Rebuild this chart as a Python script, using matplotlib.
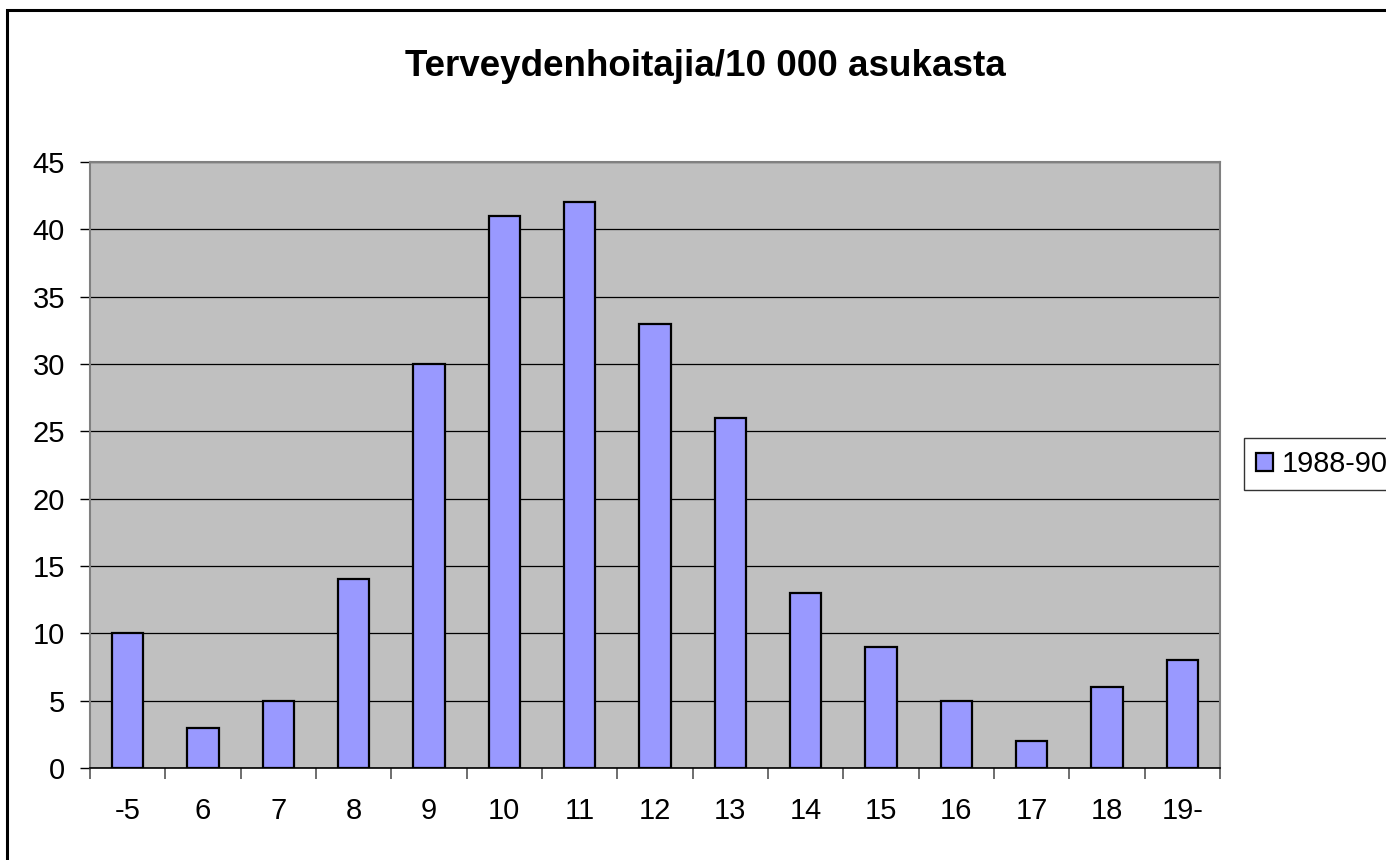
import matplotlib.pyplot as plt
from matplotlib.patches import Rectangle
import numpy as np

plt.rcParams['font.family'] = ['Liberation Sans', 'DejaVu Sans']

categories = ['-5', '6', '7', '8', '9', '10', '11', '12', '13', '14', '15', '16', '17', '18', '19-']
values = [10, 3, 5, 14, 30, 41, 42, 33, 26, 13, 9, 5, 2, 6, 8]
series_name = '1988-90'
title = 'Terveydenhoitajia/10 000 asukasta'

W, H = 1386, 860
fig = plt.figure(figsize=(W / 100, H / 100), dpi=100)

# outer chart border (right and bottom edges are cut off)
fig.patches.append(Rectangle((7 / W, -0.05), 1.1, (H - 10) / H + 0.05, transform=fig.transFigure,
                             fill=False, edgecolor='black', linewidth=2.2))

ax = fig.add_axes([90 / W, (H - 768) / H, (1220 - 90) / W, (768 - 162) / H])
ax.set_facecolor('#C0C0C0')

x = np.arange(len(categories))
ax.bar(x, values, width=0.42, color='#9999FF', edgecolor='black', linewidth=1.6,
       label=series_name, zorder=3)

ax.set_xlim(-0.5, len(categories) - 0.5)
ax.set_ylim(0, 45)
ax.set_yticks(np.arange(0, 46, 5))
ax.yaxis.grid(True, color='black', linewidth=0.9, zorder=1)
ax.set_axisbelow(True)

ax.set_xticks(x)
ax.set_xticklabels(categories)
ax.set_xticks(np.arange(-0.5, len(categories), 1), minor=True)
ax.tick_params(axis='x', which='major', length=0, pad=21, labelsize=21)
ax.tick_params(axis='x', which='minor', length=8, color='#555555', width=1.2)
ax.tick_params(axis='y', length=7, color='black', width=1, labelsize=21, pad=11)

for s in ['top', 'right', 'left']:
    ax.spines[s].set_color('#808080')
    ax.spines[s].set_linewidth(1.5)
ax.spines['bottom'].set_color('black')
ax.spines['bottom'].set_linewidth(1.2)

fig.text(705 / W, 1 - 66 / H, title, ha='center', va='center', fontsize=26.5, fontweight='bold')

leg = fig.legend(loc='center left', bbox_to_anchor=(1244 / W, 1 - 464 / H), fontsize=20.8,
                 frameon=True, fancybox=False, edgecolor='black', handlelength=0.6,
                 handleheight=0.6, handletextpad=0.3, borderpad=0.4, borderaxespad=0)
leg.get_frame().set_linewidth(1.0)

fig.savefig('out.png', dpi=100)
